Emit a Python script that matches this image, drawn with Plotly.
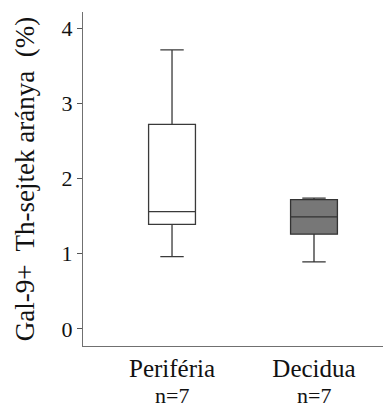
import plotly.graph_objects as go

categories = ["Periféria", "Decidua"]
n_labels = ["n=7", "n=7"]
lower_fence = [0.96, 0.89]
q1 = [1.39, 1.26]
median = [1.56, 1.49]
q3 = [2.72, 1.72]
upper_fence = [3.71, 1.74]
fills = ["#ffffff", "#777777"]
lines = ["#3a3a3a", "#333333"]

fig = go.Figure()
for i, c in enumerate(categories):
    fig.add_trace(go.Box(
        x=[c], q1=[q1[i]], median=[median[i]], q3=[q3[i]],
        lowerfence=[lower_fence[i]], upperfence=[upper_fence[i]],
        fillcolor=fills[i], line=dict(color=lines[i], width=1.3),
        width=0.33, whiskerwidth=0.5, boxpoints=False, showlegend=False,
        hoverinfo="skip",
    ))

font = "Liberation Serif, Times New Roman, serif"
for i, c in enumerate(categories):
    fig.add_annotation(x=c, xref="x", y=-0.148, yref="paper",
                       text=n_labels[i], showarrow=False, yanchor="middle",
                       font=dict(family=font, size=22, color="#111111"))

fig.update_layout(
    width=383, height=410,
    margin=dict(l=83, r=0, t=12, b=64),
    plot_bgcolor="white", paper_bgcolor="white",
    font=dict(family=font, color="#111111", size=21),
    xaxis=dict(
        type="category", categoryorder="array", categoryarray=categories,
        range=[-0.627, 1.486],
        showline=True, linecolor="#707070", linewidth=1.3,
        ticks="", showgrid=False, zeroline=False,
        tickfont=dict(family=font, size=25, color="#111111"),
    ),
    yaxis=dict(
        range=[-0.227, 4.213],
        tickvals=[0, 1, 2, 3, 4],
        showline=True, linecolor="#707070", linewidth=1.3,
        ticks="outside", ticklen=5, tickcolor="#555555",
        showgrid=False, zeroline=False,
        tickfont=dict(family=font, size=22, color="#111111"),
        title=dict(text="Gal-9+  Th-sejtek aránya  (%)",
                   font=dict(family=font, size=27, color="#111111"),
                   standoff=19),
    ),
)

fig.write_html("out.html")
